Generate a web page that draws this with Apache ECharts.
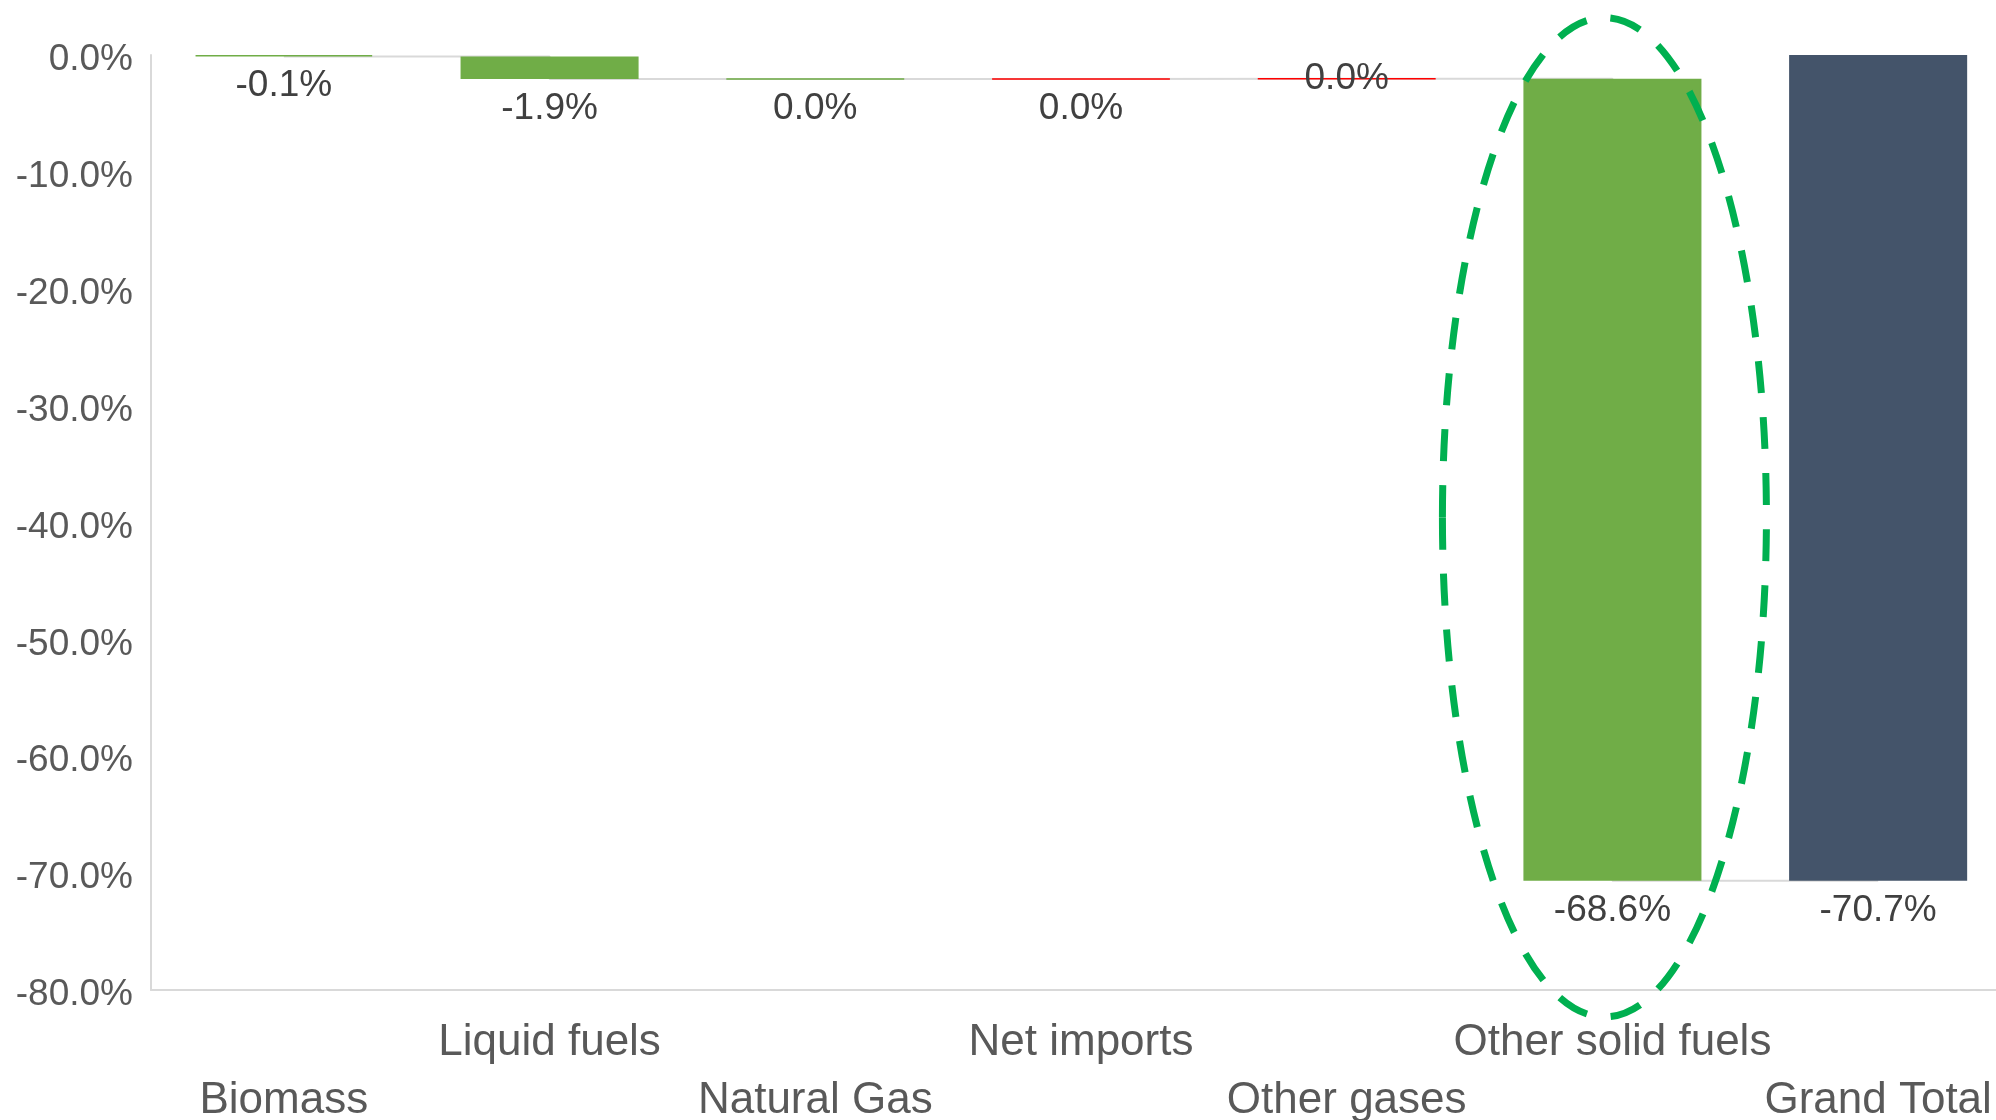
<!DOCTYPE html>
<html>
<head>
<meta charset="utf-8">
<title>Waterfall</title>
<script src="https://cdn.jsdelivr.net/npm/echarts@6/dist/echarts.min.js"></script>
<style>
  html, body { margin: 0; padding: 0; background: #fff; }
  #chart { width: 1996px; height: 1120px; }
</style>
</head>
<body>
<div id="chart"></div>
<script>
const categories = ["Biomass", "Liquid fuels", "Natural Gas", "Net imports", "Other gases", "Other solid fuels", "Grand Total"];
const changes = [-0.12, -1.93, -0.01, 0.02, 0.01, -68.63]; // % change per fuel
const grandTotal = -70.66;
const yMin = -80, yMax = 0, yStep = 10;

// waterfall: invisible base + visible step, stacked
const base = [], step = [], runAfter = [];
let run = 0;
changes.forEach(v => {
  const next = run + v;
  base.push(Math.max(run, next));
  step.push(-Math.abs(v));
  runAfter.push(next);
  run = next;
});
base.push(0);
step.push(grandTotal);
runAfter.push(grandTotal);

const shown = changes.concat([grandTotal]);
const last = categories.length - 1;

function barColor(i) {
  if (i === last) return "#44546a";
  return shown[i] > 0 ? "#ff0000" : "#70ad47";
}

const chart = echarts.init(document.getElementById("chart"));
chart.setOption({
  animation: false,
  grid: { left: 151, width: 1860, top: 55, bottom: 130, outerBoundsMode: "none", containLabel: false },
  xAxis: {
    type: "category",
    data: categories,
    axisTick: { show: false },
    axisLine: { onZero: false, lineStyle: { color: "#d9d9d9", width: 2 } },
    axisLabel: {
      interval: 0,
      margin: 24,
      fontSize: 44,
      lineHeight: 58,
      color: "#595959",
      fontFamily: "Liberation Sans",
      formatter: (v, i) => (i % 2 ? v : "\n" + v)
    }
  },
  yAxis: {
    type: "value",
    min: yMin, max: yMax, interval: yStep,
    splitLine: { show: false },
    axisLine: { show: true, lineStyle: { color: "#d9d9d9", width: 2 } },
    axisLabel: {
      margin: 18,
      formatter: v => "{t|" + v.toFixed(1) + "%}",
      rich: {
        t: {
          fontSize: 37,
          padding: [10, 0, 0, 0],
          color: "#595959",
          fontFamily: "Liberation Sans"
        }
      }
    }
  },
  series: [
    {
      type: "line",
      data: runAfter,
      step: "end",
      symbol: "none",
      z: 1,
      silent: true,
      lineStyle: { color: "#d9d9d9", width: 2 }
    },
    {
      type: "bar",
      stack: "wf",
      stackStrategy: "all",
      data: base,
      barCategoryGap: "33%",
      silent: true,
      itemStyle: { color: "transparent" }
    },
    {
      type: "bar",
      stack: "wf",
      stackStrategy: "all",
      z: 3,
      data: step.map((v, i) => ({
        value: v,
        itemStyle: { color: barColor(i), borderColor: barColor(i), borderWidth: 1.5 },
        label: i === 4 ? { position: "inside" } : undefined
      })),
      label: {
        show: true,
        position: "bottom",
        distance: 11,
        fontSize: 37,
        color: "#404040",
        fontFamily: "Liberation Sans",
        formatter: p => (Math.round(shown[p.dataIndex] * 10) / 10).toFixed(1) + "%"
      }
    }
  ]
});

// dashed highlight around the "Other solid fuels" bar
const ovalTop = chart.convertToPixel({ gridIndex: 0 }, [categories[5], 3.2]);
const ovalBottom = chart.convertToPixel({ gridIndex: 0 }, [categories[5], -82.3]);
chart.setOption({
  graphic: [{
    type: "ellipse",
    shape: {
      cx: ovalTop[0] - 8,
      cy: (ovalTop[1] + ovalBottom[1]) / 2,
      rx: 162,
      ry: (ovalBottom[1] - ovalTop[1]) / 2
    },
    style: { fill: "none", stroke: "#00b050", lineWidth: 7, lineDash: [32, 24] },
    z: 10
  }]
});
</script>
</body>
</html>
